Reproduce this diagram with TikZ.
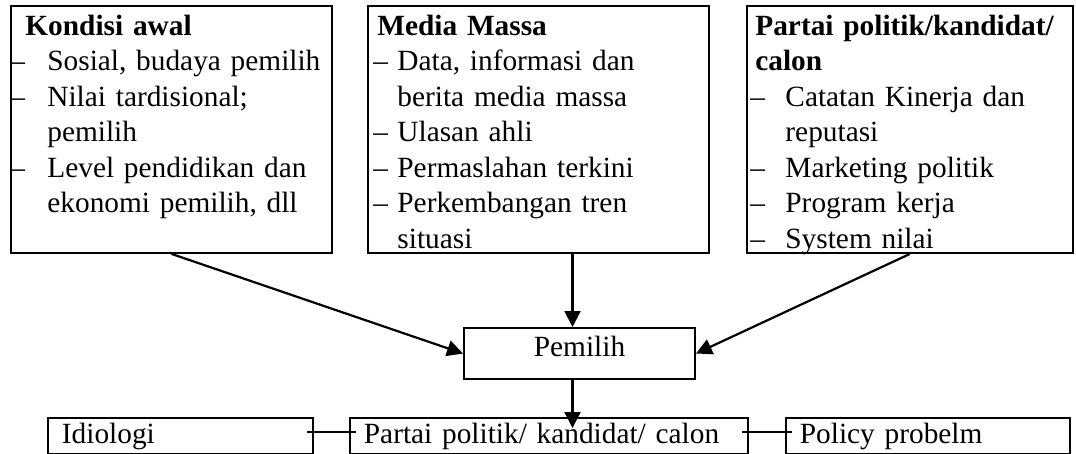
\documentclass[tikz,border=0pt]{standalone}
\usepackage{fontspec}
\setmainfont{Liberation Serif}
\usetikzlibrary{arrows.meta,calc}
\newlength{\dashw}
\newcommand{\itm}[1]{\par\hangindent=\dashw\hangafter=1\noindent\makebox[\dashw][l]{\textendash}#1}
\newcommand{\hd}[2]{\noindent\strut\hspace*{#1}\textbf{#2}}
\begin{document}
\begin{tikzpicture}[x=0.409pt, y=-0.409pt, font=\fontsize{12}{14.5}\selectfont,
		box/.style={draw, line width=.8pt, inner sep=0pt, anchor=north west},
		txt/.style={inner sep=0pt, anchor=north west, align=left},
		bot/.style={minimum height=14.7pt, inner xsep=5.7pt, align=left, text height=8.5pt, text depth=2.5pt},
		arr/.style={-{Triangle[length=6.5pt,width=6.5pt]}, line width=.9pt},
		link/.style={line width=.7pt, shorten <=-3pt, shorten >=-3pt}]
	\useasboundingbox (0,0) rectangle (1076,454);
	% upper boxes
	\node [box, minimum width=131.3pt, minimum height=101pt] (kondisi) at (10,5) {};
	\node [box, minimum width=139.5pt, minimum height=101pt] (media) at (367,5) {};
	\node [box, minimum width=133.3pt, minimum height=101pt] (partai) at (746,5) {};
	\node [txt, text width=130pt] (kondisiTxt) at (10,10) {\setlength{\dashw}{15.1pt}\hd{6.1pt}{Kondisi awal}
		\itm{Sosial, budaya pemilih}
		\itm{Nilai tardisional;\newline pemilih}
		\itm{\makebox[108.8pt][s]{Level pendidikan dan}\newline ekonomi pemilih, dll}\par};
	\node [txt, text width=136pt] (mediaTxt) at (373,10) {\setlength{\dashw}{9.8pt}\hd{1.6pt}{Media Massa}
		\itm{Data, informasi dan\newline berita media massa}
		\itm{Ulasan ahli}
		\itm{Permaslahan terkini}
		\itm{Perkembangan tren\newline situasi}\par};
	\node [txt, text width=130pt] (partaiTxt) at (750,10) {\setlength{\dashw}{14.3pt}\hd{2pt}{Partai politik/kandidat/}\newline\hspace*{2pt}\textbf{calon}
		\itm{Catatan Kinerja dan\newline reputasi}
		\itm{Marketing politik}
		\itm{Program kerja}
		\itm{System nilai}\par};
	% middle
	\node [box, minimum width=94.5pt, minimum height=20.9pt, text height=7pt, text depth=4.2pt] (pemilih) at (463,327) {Pemilih};
	% lower boxes
	\node [box, bot, text width=97pt] (idiologi) at (47,417) {Idiologi};
	\node [box, bot, text width=151.4pt] (partaiB) at (349,417) {Partai politik/ kandidat/ calon};
	\node [box, bot, text width=104.8pt] (policy) at (785,417) {Policy probelm};
	\draw [arr] (kondisi.south) -- (pemilih.west);
	\draw [arr] ($(media.south -| pemilih.north)+(-7,0)$) -- ($(pemilih.north)+(-7,0)$);
	\draw [arr] (partai.south) -- (pemilih.east);
	\draw [arr, shorten >=-4.5pt] ($(pemilih.south)+(-7,0)$) -- ($(partaiB.north -| pemilih.south)+(-7,0)$);
	\draw [link] ($(idiologi.east)+(0,-4)$) -- ($(partaiB.west)+(0,-4)$);
	\draw [link] ($(partaiB.east)+(0,-4)$) -- ($(policy.west)+(0,-4)$);
\end{tikzpicture}
\end{document}
